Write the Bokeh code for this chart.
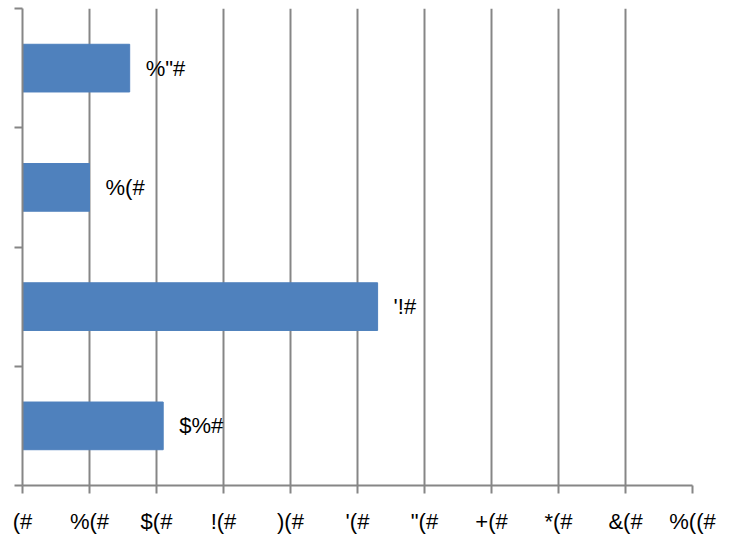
from bokeh.plotting import figure
from bokeh.models import FixedTicker, ColumnDataSource, Range1d
from bokeh.core.properties import value
from bokeh.embed import file_html
from bokeh.resources import INLINE

# Data (bottom to top)
positions = [1, 2, 3, 4]
values = [21, 53, 10, 16]
bar_labels = ["$%#", "'!#", "%(#", "%\"#"]
x_ticks = [0, 10, 20, 30, 40, 50, 60, 70, 80, 90, 100]
x_tick_labels = ["(#", "%(#", "$(#", "!(#", ")(#", "'(#", "\"(#", "+(#", "*(#", "&(#", "%((#"]

FONT = "Liberation Sans"
GRAY = "#868686"

p = figure(width=723, height=536, output_backend="svg", toolbar_location=None,
           x_range=Range1d(0, 100), y_range=Range1d(0.5, 4.5),
           min_border_left=22, min_border_right=31, min_border_top=8,
           min_border_bottom=49)
p.outline_line_color = None
p.background_fill_color = "white"

src = ColumnDataSource(dict(y=positions, v=values, lab=bar_labels))
p.hbar(y="y", right="v", left=0, height=0.4, source=src,
       fill_color="#4F81BD", line_color="#4F81BD", line_width=1)
p.text(x="v", y="y", text="lab", source=src, x_offset=16,
       text_align="left", text_baseline="middle",
       text_font=value(FONT), text_font_size="22px", text_color="black")

# x axis
p.xaxis.ticker = FixedTicker(ticks=x_ticks)
p.xaxis.major_label_overrides = {t: l for t, l in zip(x_ticks, x_tick_labels)}
p.xaxis.major_label_text_font = FONT
p.xaxis.major_label_text_font_size = "22px"
p.xaxis.major_label_text_color = "black"
p.xaxis.major_label_standoff = 15
p.xaxis.major_tick_in = 0
p.xaxis.major_tick_out = 8
p.xaxis.minor_tick_line_color = None
p.xaxis.axis_line_color = GRAY
p.xaxis.axis_line_width = 2
p.xaxis.major_tick_line_color = GRAY
p.xaxis.major_tick_line_width = 2

# y axis
yt = [0.5, 1.5, 2.5, 3.5, 4.5]
p.yaxis.ticker = FixedTicker(ticks=yt)
p.yaxis.major_label_overrides = {t: "" for t in yt}
p.yaxis.major_label_standoff = 0
p.yaxis.major_tick_in = 0
p.yaxis.major_tick_out = 8
p.yaxis.minor_tick_line_color = None
p.yaxis.axis_line_color = GRAY
p.yaxis.axis_line_width = 2
p.yaxis.major_tick_line_color = GRAY
p.yaxis.major_tick_line_width = 2

p.xgrid.grid_line_color = GRAY
p.xgrid.grid_line_width = 2
p.ygrid.grid_line_color = None

open("out.html", "w").write(file_html(p, INLINE))
